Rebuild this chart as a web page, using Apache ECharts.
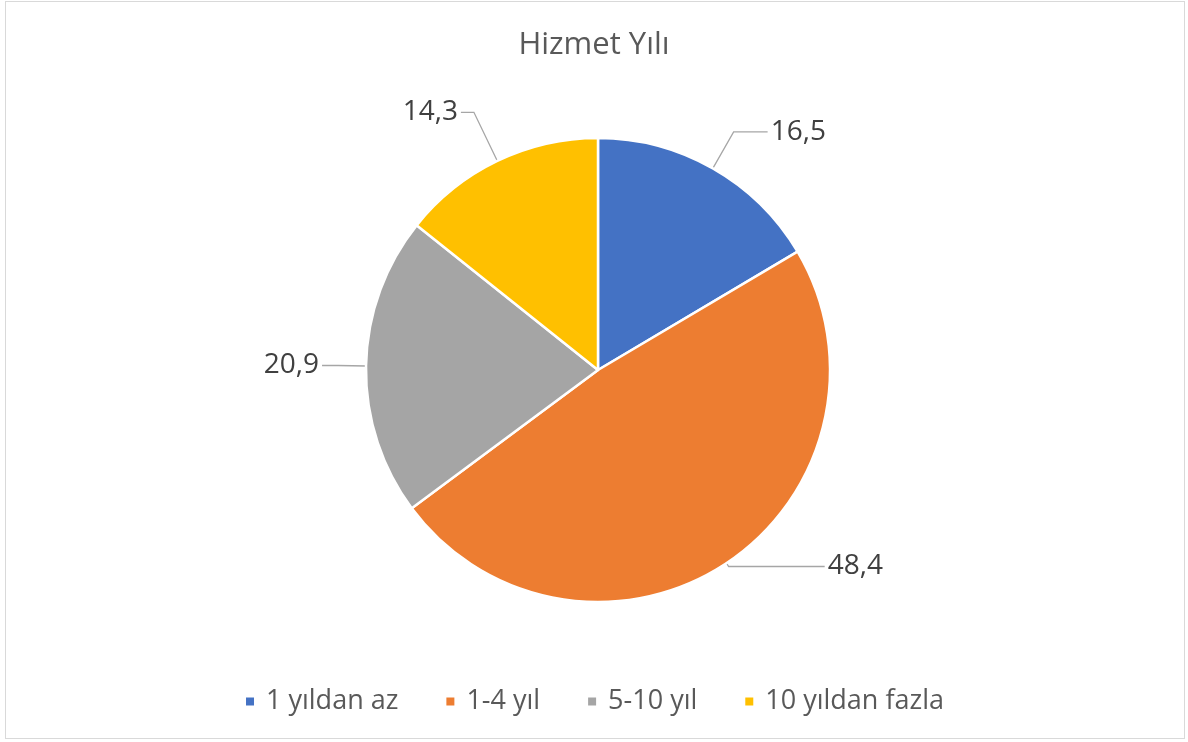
<!DOCTYPE html>
<html>
<head>
<meta charset="utf-8">
<script src="https://cdn.jsdelivr.net/npm/echarts@6/dist/echarts.min.js"></script>
<style>
html,body{margin:0;padding:0;background:#fff;}
#frame{position:absolute;left:5px;top:1px;width:1180px;height:738px;border:1px solid #d9d9d9;box-sizing:border-box;}
#chart{position:absolute;left:0;top:0;width:1188px;height:742px;}
</style>
</head>
<body>
<div id="frame"></div>
<div id="chart"></div>
<script>
const title = 'Hizmet Yılı';
const categories = ['1 yıldan az', '1-4 yıl', '5-10 yıl', '10 yıldan fazla'];
const values = [16.5, 48.4, 20.9, 14.3];
const colors = ['#4472C4', '#ED7D31', '#A5A5A5', '#FFC000'];
const lineLengths = [[42, 34], [4, 96], [28, 16], [54, 13]];

const FONT = '"Open Sans", "Noto Sans", sans-serif';
const chart = echarts.init(document.getElementById('chart'));
chart.setOption({
  animation: false,
  color: colors,
  title: {
    text: title,
    left: 'center',
    top: 25,
    textStyle: { fontFamily: FONT, fontSize: 31, fontWeight: 'normal', color: '#595959' }
  },
  legend: {
    bottom: 22,
    left: 'center',
    icon: 'rect',
    itemWidth: 10,
    itemHeight: 10,
    itemGap: 46,
    textStyle: { fontFamily: FONT, fontSize: 27, color: '#595959', padding: [0, 0, 0, 6] },
    data: categories
  },
  series: [{
    type: 'pie',
    center: [598, 370],
    radius: [0, 232],
    startAngle: 90,
    clockwise: true,
    avoidLabelOverlap: false,
    itemStyle: { borderColor: '#fff', borderWidth: 2.5 },
    label: {
      show: true,
      position: 'outside',
      fontFamily: FONT,
      fontSize: 28,
      color: '#404040',
      distanceToLabelLine: 3,
      formatter: p => String(p.value).replace('.', ',')
    },
    labelLine: { show: true, lineStyle: { color: '#A6A6A6', width: 1.3 } },
    data: categories.map((c, i) => ({
      name: c,
      value: values[i],
      labelLine: { length: lineLengths[i][0], length2: lineLengths[i][1] }
    }))
  }]
});
</script>
</body>
</html>
